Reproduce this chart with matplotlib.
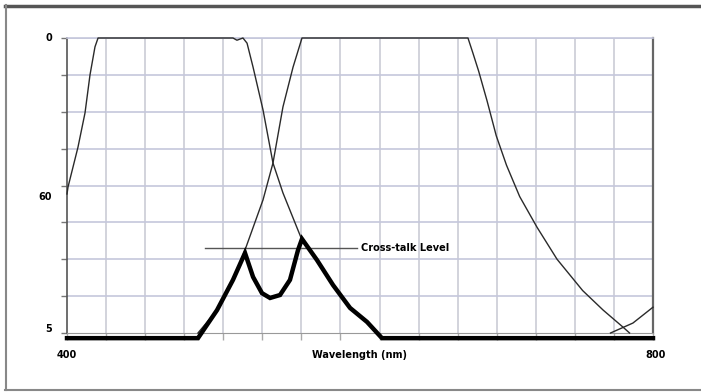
import numpy as np
import matplotlib
matplotlib.use("Agg")
import matplotlib.pyplot as plt
from matplotlib.lines import Line2D

# wavelength (nm) / attenuation (dB)
canal1_x = [400.0, 400.7, 407.5, 412.3, 415.7, 419.1, 421.2, 513.3, 516.0, 520.1,
            522.9, 527.0, 533.8, 540.6, 547.4, 560.4, 570.6, 581.6, 593.2, 604.8, 612.0]
canal1_y = [-42.3, -40.4, -29.6, -20.3, -10.0, -2.4, 0.0, 0.0, -0.6, 0.0,
            -1.4, -7.9, -19.5, -33.9, -42.0, -54.8, -60.2, -67.0, -73.2, -77.0, -80.0]

canal2_x = [489.4, 502.4, 513.3, 521.5, 533.8, 540.6, 547.4, 554.3, 560.4, 673.7,
            677.0, 681.0, 686.7, 693.0, 700.0, 709.0, 720.8, 734.5, 752.0, 766.0,
            779.5, 784.0]
canal2_y = [-80.0, -73.8, -65.6, -57.5, -43.9, -33.9, -18.7, -7.9, 0.0, 0.0,
            -4.0, -9.0, -17.0, -26.5, -34.5, -43.0, -51.3, -60.0, -68.5, -73.8,
            -78.4, -80.0]

canal3_x = [771.0, 786.3, 800.0]
canal3_y = [-80.0, -77.3, -73.0]

# curva de crosstalk (traço grosso)
xtalk_x = [400.0, 489.4, 502.4, 513.3, 521.5, 527.0, 533.1, 538.6, 545.4, 552.2,
           557.7, 560.4, 570.6, 581.6, 593.2, 604.8, 615.0, 800.0]
xtalk_y = [-81.4, -81.4, -73.8, -65.6, -58.3, -64.8, -69.2, -70.5, -69.7, -65.6,
           -57.5, -54.5, -60.2, -67.0, -73.2, -77.0, -81.4, -81.4]

nivel_xtalk = -56.9
nivel_x = [494.2, 598.0]
rotulo_nivel = "Cross-talk Level"

x_rotulos = ["400", "800"]
y_rotulos = ["0", "60", "5"]
y_rotulos_pos = [0, -43, -79]

fig = plt.figure(figsize=(7.01, 3.92), dpi=100)
ax = fig.add_axes([67 / 701, 1 - 333 / 392, 586 / 701, 295 / 392])

# grade
for xv in np.linspace(400, 800, 16)[1:-1]:
    ax.axvline(xv, color="#d2d3dc", lw=1.4, zorder=0)
for yv in np.arange(-70, 1, 10):
    ax.axhline(yv, color="#c5c7dc", lw=1.2, zorder=0)

for cx, cy in [(canal1_x, canal1_y), (canal2_x, canal2_y), (canal3_x, canal3_y)]:
    ax.plot(cx, cy, color="#2a2a2a", lw=1.0, clip_on=False, zorder=4)
ax.plot(xtalk_x, xtalk_y, color="black", lw=3.2, clip_on=False,
        solid_joinstyle="miter", zorder=5)

ax.plot(nivel_x, [nivel_xtalk, nivel_xtalk], color="#555555", lw=1.0)
ax.text(nivel_x[1] + 2.5, nivel_xtalk, rotulo_nivel, fontsize=7, fontweight="bold",
        ha="left", va="center")

ax.set_xlim(400, 800)
ax.set_ylim(-80, 0)
ax.set_xticks(np.linspace(400, 800, 16))
ax.set_xticklabels([])
ax.set_yticks(np.arange(-80, 1, 10))
ax.set_yticklabels([])
ax.tick_params(axis="x", length=5, color="#aaaaaa", width=1)
ax.tick_params(axis="y", length=4, color="#777777", width=1)

ax.spines["left"].set_color("#555555")
ax.spines["left"].set_linewidth(1.2)
ax.spines["right"].set_color("#666666")
ax.spines["right"].set_linewidth(1.6)
ax.spines["top"].set_color("#c5c7dc")
ax.spines["top"].set_linewidth(1.2)
ax.spines["bottom"].set_color("#999999")

# rótulos
ax.text(0, -0.075, x_rotulos[0], transform=ax.transAxes, fontsize=7,
        fontweight="bold", ha="center", va="center")
ax.text(1.005, -0.075, x_rotulos[1], transform=ax.transAxes, fontsize=7,
        fontweight="bold", ha="center", va="center")
ax.text(0.5, -0.075, "Wavelength (nm)", transform=ax.transAxes, fontsize=7,
        fontweight="bold", ha="center", va="center")
for txt, yp in zip(y_rotulos, y_rotulos_pos):
    ax.text(390, yp, txt, fontsize=7, fontweight="bold", ha="right", va="center")

# moldura
fig.add_artist(Line2D([5 / 701, 1], [1 - 6 / 392, 1 - 6 / 392],
                      transform=fig.transFigure, color="#555555", lw=2.5))
fig.add_artist(Line2D([6 / 701, 6 / 701], [1 - 5 / 392, 1 - 390 / 392],
                      transform=fig.transFigure, color="#888888", lw=1.5))
fig.add_artist(Line2D([5 / 701, 1], [1 - 390 / 392, 1 - 390 / 392],
                      transform=fig.transFigure, color="#888888", lw=1.5))

fig.savefig("out.png", dpi=100)
